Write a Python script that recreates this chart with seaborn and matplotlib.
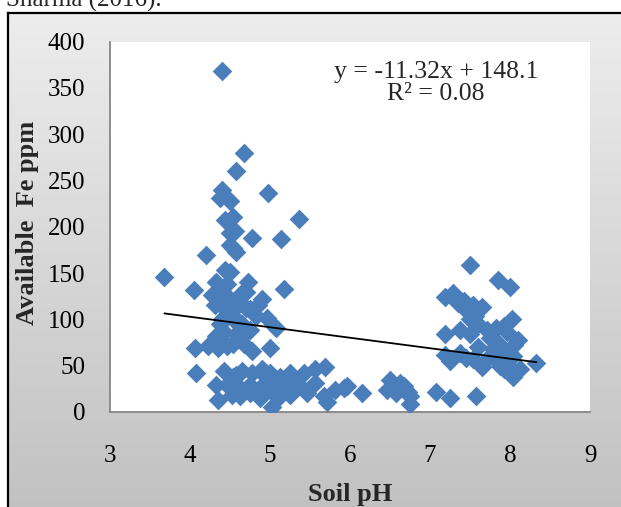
import numpy as np
import matplotlib
matplotlib.use("Agg")
import matplotlib.pyplot as plt
from matplotlib.colors import LinearSegmentedColormap
import seaborn as sns

# ---------------- data ----------------
soil_ph = [
    3.68, 4.05, 4.06, 4.08, 4.20, 4.23, 4.27, 4.31, 4.33, 4.33, 4.33, 4.35, 4.35,
    4.37, 4.40, 4.40, 4.40, 4.40, 4.42, 4.42, 4.44, 4.44, 4.44, 4.46, 4.46, 4.46,
    4.50, 4.50, 4.50, 4.50, 4.50, 4.54, 4.54, 4.54, 4.54, 4.56, 4.58, 4.58, 4.58,
    4.58, 4.58, 4.60, 4.62, 4.62, 4.65, 4.67, 4.67, 4.73, 4.75, 4.75, 4.75, 4.75,
    4.77, 4.77, 4.77, 4.83, 4.88, 4.88, 4.90, 4.90, 4.96, 4.97, 5.00, 5.00, 5.00,
    5.02, 5.08, 5.13, 5.13, 5.14, 5.15, 5.18, 5.25, 5.25, 5.25, 5.36, 5.38, 5.42,
    5.46, 5.56, 5.56, 5.69, 5.67, 5.71, 5.81, 5.92, 5.96, 6.15,
    4.38, 4.52, 4.65, 4.70, 4.85, 4.62, 4.40, 4.70, 4.66, 4.36, 4.47, 4.58, 4.70,
    4.82, 4.95, 5.05, 4.52, 5.30, 5.20,
    6.46, 6.50, 6.58, 6.63, 6.67, 6.73, 6.75, 6.75, 7.08, 7.25, 7.57,
    7.50, 7.85, 8.00, 7.19, 7.29, 7.42, 7.54, 7.65, 7.50, 7.56, 8.02, 7.92, 7.19,
    7.38, 7.50, 7.71, 7.83, 7.96, 8.10, 7.19, 7.25, 7.38, 7.54, 7.65, 7.79, 7.92,
    8.04, 7.98, 7.83, 7.71, 8.13, 8.04, 7.92, 8.33,
    7.35, 7.45, 7.60, 7.75, 7.85, 8.05, 7.60, 7.45, 7.87, 8.00,
]
fe_ppm = [
    146, 132, 69, 42, 169, 71, 126, 115, 140, 82, 29, 69, 13,
    231, 368, 240, 126, 100, 86, 44, 207, 153, 111, 138, 71, 29,
    228, 180, 151, 122, 193, 210, 177, 73, 38, 195, 260, 173, 113,
    97, 84, 28, 126, 17, 44, 280, 73, 140, 111, 89, 29, 20,
    188, 66, 42, 104, 26, 15, 122, 46, 102, 236, 69, 42, 24,
    5, 91, 38, 17, 187, 28, 133, 42, 24, 18, 208, 28, 42,
    20, 46, 31, 49, 17, 11, 24, 26, 28, 20,
    95, 105, 95, 130, 115, 80, 78, 112, 130, 120, 30, 40, 25,
    20, 38, 30, 18, 35, 28,
    24, 35, 20, 31, 28, 22, 9, 17, 22, 15, 17,
    159, 142, 135, 124, 129, 120, 115, 113, 100, 104, 100, 93, 84,
    88, 84, 89, 91, 86, 78, 62, 55, 64, 57, 49, 68, 64,
    60, 51, 57, 57, 46, 38, 46, 53,
    118, 110, 95, 80, 75, 72, 70, 58, 50, 45,
]
slope = -11.32
intercept = 148.1
equation_text = "y = -11.32x + 148.1"
r2_text = "R\u00b2 = 0.08"
x_ticks = [3, 4, 5, 6, 7, 8, 9]
y_ticks = [0, 50, 100, 150, 200, 250, 300, 350, 400]
x_label = "Soil pH"
y_label = "Available  Fe ppm"
caption = "Sharma (2016)."

# ---------------- styling ----------------
sns.set_style("white")
plt.rcParams['font.family'] = ['Liberation Serif', 'DejaVu Serif']

W, H = 621, 507
fig = plt.figure(figsize=(W / 100, H / 100), dpi=100)
fig.patch.set_facecolor("white")

# chart frame with vertical grey gradient
bg = fig.add_axes([8 / W, -0.1, 1 - 8 / W + 0.1, (1 - 13 / H) + 0.1])
grad = np.linspace(0, 1, 256).reshape(-1, 1)
cmap = LinearSegmentedColormap.from_list("g", ["#ededed", "#bdbdbd"])
bg.imshow(grad, aspect="auto", cmap=cmap, extent=[0, 1, 0, 1], origin="upper")
bg.set_xlim(0, 1)
bg.set_ylim(0, 1)
bg.set_xticks([])
bg.set_yticks([])
for side in ["right", "bottom"]:
    bg.spines[side].set_visible(False)
for side in ["left", "top"]:
    bg.spines[side].set_color("black")
    bg.spines[side].set_linewidth(1.6)

# plot area
ax = fig.add_axes([110 / W, 1 - 412 / H, 480 / W, (412 - 41.5) / H])
ax.set_facecolor("white")
sns.scatterplot(x=soil_ph, y=fe_ppm, marker="D", s=100, color="#4A7EBB",
                linewidth=0, ax=ax, zorder=3)

xs = np.array([min(soil_ph), max(soil_ph)])
ax.plot(xs, slope * xs + intercept, color="black", lw=1.3, zorder=4)

ax.set_xlim(3, 9)
ax.set_ylim(0, 400)
ax.set_xticks(x_ticks)
ax.set_yticks(y_ticks)
ax.set_xticklabels([str(t) for t in x_ticks])
ax.set_yticklabels([str(t) for t in y_ticks])
for side in ["top", "right"]:
    ax.spines[side].set_visible(False)
for side in ["left", "bottom"]:
    ax.spines[side].set_color("#868686")
    ax.spines[side].set_linewidth(1.3)
ax.tick_params(axis="both", direction="out", length=5, width=1.2,
               color="#868686", labelcolor="black", labelsize=18)
ax.tick_params(axis="x", pad=19)
ax.tick_params(axis="y", pad=13)
ax.set_xlabel("")
ax.set_ylabel("")

fig.text(436 / W, 1 - 72 / H, equation_text, ha="center", va="center", fontsize=18.5)
fig.text(436 / W, 1 - 94 / H, r2_text, ha="center", va="center", fontsize=18.5)

fig.text(350 / W, 1 - 494 / H, x_label, ha="center", va="center",
         fontsize=19, fontweight="bold")
fig.text(28 / W, 1 - 223 / H, y_label, ha="center", va="center", rotation=90,
         fontsize=19, fontweight="bold")

fig.text(6 / W, 1 - 6.5 / H, caption, ha="left", va="baseline", fontsize=18)

fig.savefig("out.png", dpi=100)
